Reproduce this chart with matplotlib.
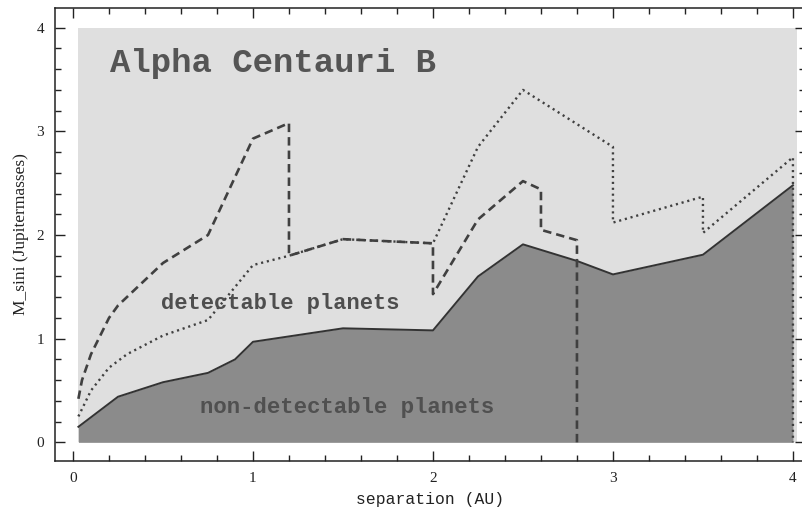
import matplotlib
matplotlib.use("Agg")
import matplotlib.pyplot as plt
from matplotlib.ticker import MultipleLocator

# Lower boundary (detection limit, solid curve)
sep_solid = [0.03, 0.25, 0.5, 0.75, 0.9, 1.0, 1.5, 2.0, 2.25, 2.5, 2.8, 3.0, 3.5, 4.0]
m_solid = [0.15, 0.44, 0.58, 0.67, 0.80, 0.97, 1.10, 1.08, 1.60, 1.91, 1.75, 1.62, 1.81, 2.48]

# Dashed curve
sep_dash = [0.03, 0.05, 0.1, 0.2, 0.25, 0.5, 0.75, 1.0, 1.2, 1.2, 1.5, 2.0, 2.0, 2.25, 2.5, 2.6, 2.6, 2.8, 2.8]
m_dash = [0.42, 0.60, 0.85, 1.20, 1.32, 1.73, 2.00, 2.93, 3.08, 1.80, 1.96, 1.92, 1.43, 2.15, 2.52, 2.44, 2.05, 1.95, 0.0]

# Dotted curve
sep_dot = [0.03, 0.1, 0.2, 0.3, 0.5, 0.75, 1.0, 1.2, 1.5, 2.0, 2.25, 2.5, 3.0, 3.0, 3.5, 3.5, 4.0, 4.0]
m_dot = [0.25, 0.50, 0.72, 0.85, 1.03, 1.18, 1.71, 1.80, 1.96, 1.92, 2.85, 3.40, 2.85, 2.12, 2.37, 2.02, 2.75, 0.0]

x_ticks = [0, 1, 2, 3, 4]
y_ticks = [0, 1, 2, 3, 4]

fig = plt.figure(figsize=(8.02, 5.08), dpi=100)
ax = fig.add_axes([55 / 802, 1 - 461 / 508, (805 - 55) / 802, (461 - 8) / 508])

ax.set_xlim(-0.1, 4.067)
ax.set_ylim(-0.18, 4.19)

# light gray region (detectable)
ax.fill_between([0.03, 4.02], [0, 0], [4.0, 4.0], color="#dfdfdf", lw=0, zorder=1)
# dark gray region (non-detectable)
ax.fill_between(sep_solid, 0, m_solid, color="#8b8b8b", lw=0, zorder=2)
ax.plot(sep_solid, m_solid, color="#333333", lw=1.4, zorder=3)

ax.plot(sep_dash, m_dash, color="#404040", lw=1.9, dashes=(3.2, 1.9), zorder=4)
ax.plot(sep_dot, m_dot, color="#404040", lw=1.7, dashes=(0.9, 1.6), zorder=4)

ax.text(0.205, 3.57, "Alpha Centauri B", family="Liberation Mono", fontweight="bold",
        fontsize=24.5, color="#555555", va="baseline", ha="left", zorder=5)
ax.text(0.49, 1.34, "detectable planets", family="Liberation Mono", fontweight="bold",
        fontsize=15.8, color="#4e4e4e", va="center", ha="left", zorder=5)
ax.text(0.705, 0.34, "non-detectable planets", family="Liberation Mono", fontweight="bold",
        fontsize=16.1, color="#505050", va="center", ha="left", zorder=5)

ax.set_xticks(x_ticks)
ax.set_yticks(y_ticks)
ax.xaxis.set_minor_locator(MultipleLocator(0.2))
ax.yaxis.set_minor_locator(MultipleLocator(0.2))
ax.tick_params(which="both", direction="in", top=True, right=True, width=1.0, color="#222222")
ax.tick_params(which="major", length=7)
ax.tick_params(which="minor", length=4)
for lab in ax.get_xticklabels() + ax.get_yticklabels():
    lab.set_family("Liberation Serif")
    lab.set_fontsize(11)
    lab.set_color("#222222")
ax.tick_params(axis="x", pad=8)
ax.tick_params(axis="y", pad=8)

for s in ax.spines.values():
    s.set_linewidth(1.1)
    s.set_color("#222222")

ax.set_xlabel("separation (AU)", family="Liberation Mono", fontsize=11.8, color="#222222", labelpad=5)
ax.set_ylabel("M_sini (Jupitermasses)", family="Liberation Serif", fontsize=12.5, color="#222222", labelpad=5)

fig.savefig("out.png", dpi=100)
